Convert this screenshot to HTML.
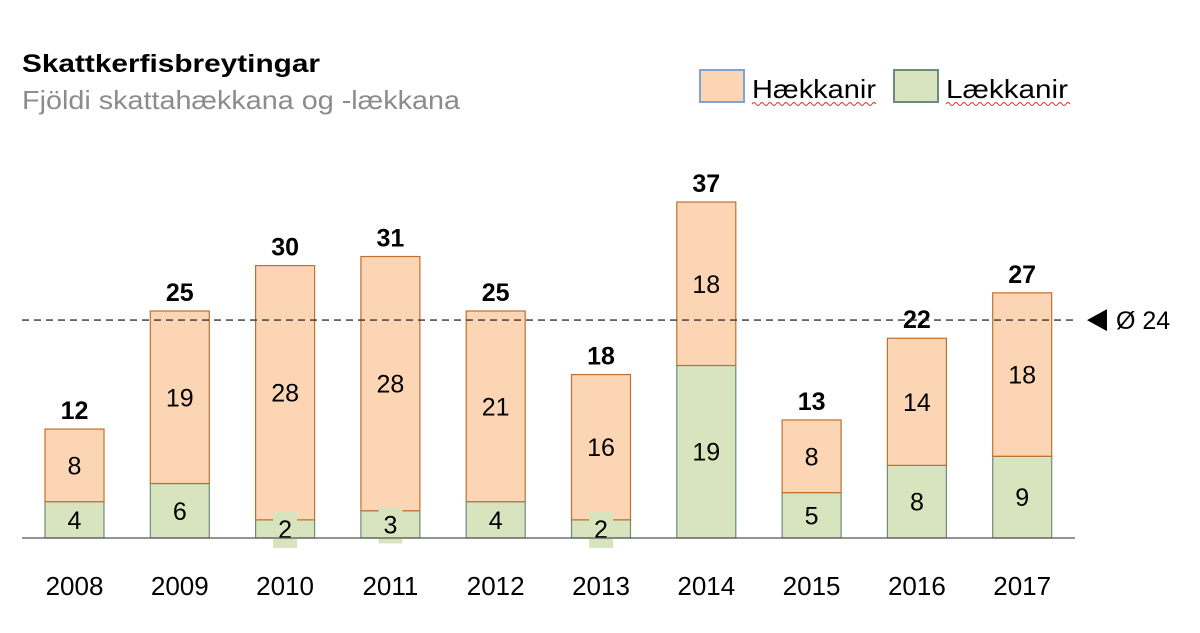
<!DOCTYPE html>
<html><head><meta charset="utf-8"><style>
body{margin:0;background:#fff;width:1200px;height:628px;overflow:hidden}
svg{font-family:"Liberation Sans","DejaVu Sans",sans-serif}
</style></head><body>
<svg id="chart" width="1200" height="628" viewBox="0 0 1200 628">
<text x="22" y="72" font-size="25" font-weight="bold" fill="#000" textLength="298" lengthAdjust="spacingAndGlyphs">Skattkerfisbreytingar</text>
<text x="22" y="109" font-size="26" fill="#8c8c8c" textLength="438" lengthAdjust="spacingAndGlyphs">Fjöldi skattahækkana og -lækkana</text>
<g>
<rect x="700" y="70" width="44" height="32" fill="#fcd5b5" stroke="#7ea3d6" stroke-width="2"/>
<text x="752" y="98" font-size="26" fill="#000" textLength="124" lengthAdjust="spacingAndGlyphs">Hækkanir</text>
<path d="M752 104 q2 -3 4 0 t4 0 t4 0 t4 0 t4 0 t4 0 t4 0 t4 0 t4 0 t4 0 t4 0 t4 0 t4 0 t4 0 t4 0 t4 0 t4 0 t4 0 t4 0 t4 0 t4 0 t4 0 t4 0 t4 0 t4 0 t4 0 t4 0 t4 0 t4 0 t4 0 t4 0" fill="none" stroke="#e03030" stroke-width="1"/>
<rect x="894" y="70" width="44" height="32" fill="#d7e4bd" stroke="#6e8b7e" stroke-width="2"/>
<text x="946" y="98" font-size="26" fill="#000" textLength="122" lengthAdjust="spacingAndGlyphs">Lækkanir</text>
<path d="M946 104 q2 -3 4 0 t4 0 t4 0 t4 0 t4 0 t4 0 t4 0 t4 0 t4 0 t4 0 t4 0 t4 0 t4 0 t4 0 t4 0 t4 0 t4 0 t4 0 t4 0 t4 0 t4 0 t4 0 t4 0 t4 0 t4 0 t4 0 t4 0 t4 0 t4 0 t4 0 t4 0" fill="none" stroke="#e03030" stroke-width="1"/>
</g>
<g id="bars"></g>
</svg>
<script>
const years = ['2008','2009','2010','2011','2012','2013','2014','2015','2016','2017'];
const increases = [8,19,28,28,21,16,18,8,14,18];
const decreases = [4,6,2,3,4,2,19,5,8,9];
const totals = [12,25,30,31,25,18,37,13,22,27];
const average = 24;
const averageLabel = 'Ø 24';

const NS='http://www.w3.org/2000/svg';
const base=538, k=9.08, x0=45, step=105.3, bw=59;
const xs=i=>x0+i*step;
const ys=v=>base-v*k;
const g=document.getElementById('bars');
function mk(t,a,txt){const e=document.createElementNS(NS,t);for(const n in a)e.setAttribute(n,a[n]);if(txt!=null)e.textContent=txt;g.appendChild(e);return e;}

years.forEach((yr,i)=>{
  const x=xs(i), cx=x+bw/2;
  const d=decreases[i], inc=increases[i];
  let r=mk('rect',{x:x,y:ys(d),width:bw,height:d*k,fill:'#d7e4bd',stroke:'#6e8b7e','stroke-width':1.2});
  
  
  r=mk('rect',{x:x,y:ys(d+inc),width:bw,height:inc*k,fill:'#fcd5b5',stroke:'#c0702e','stroke-width':1.2});
  
  
  const dy=(ys(0)+ys(d))/2;
  if(d*k<28){
    const b=mk('rect',{x:cx-12,y:dy-17,width:24,height:36,fill:'#d7e4bd'});
    
    
  }
  let t=mk('text',{x:cx,y:dy+9,'font-size':25,'text-anchor':'middle',fill:'#000'},String(d));
  
  
  t=mk('text',{x:cx,y:(ys(d)+ys(d+inc))/2+9,'font-size':25,'text-anchor':'middle',fill:'#000'},String(inc));
  
  
  t=mk('text',{x:cx,y:ys(totals[i])-10,'font-size':25,'font-weight':'bold','text-anchor':'middle',fill:'#000'},String(totals[i]));
  
  
  t=mk('text',{x:cx,y:595,'font-size':26,'text-anchor':'middle',fill:'#000'},yr);
  
  
});
let ax=mk('line',{x1:22,y1:base,x2:1075,y2:base,stroke:'#555','stroke-width':1.3});


let al=mk('line',{x1:22,y1:ys(average),x2:1075,y2:ys(average),stroke:'#333','stroke-width':1.3,'stroke-dasharray':'7,5'});


let ar=mk('polygon',{points:`1087,${ys(average)} 1107,${ys(average)-11} 1107,${ys(average)+11}`,fill:'#000'});


let at=mk('text',{x:1116,y:ys(average)+9,'font-size':25,fill:'#000'},averageLabel);


</script>
</body></html>
